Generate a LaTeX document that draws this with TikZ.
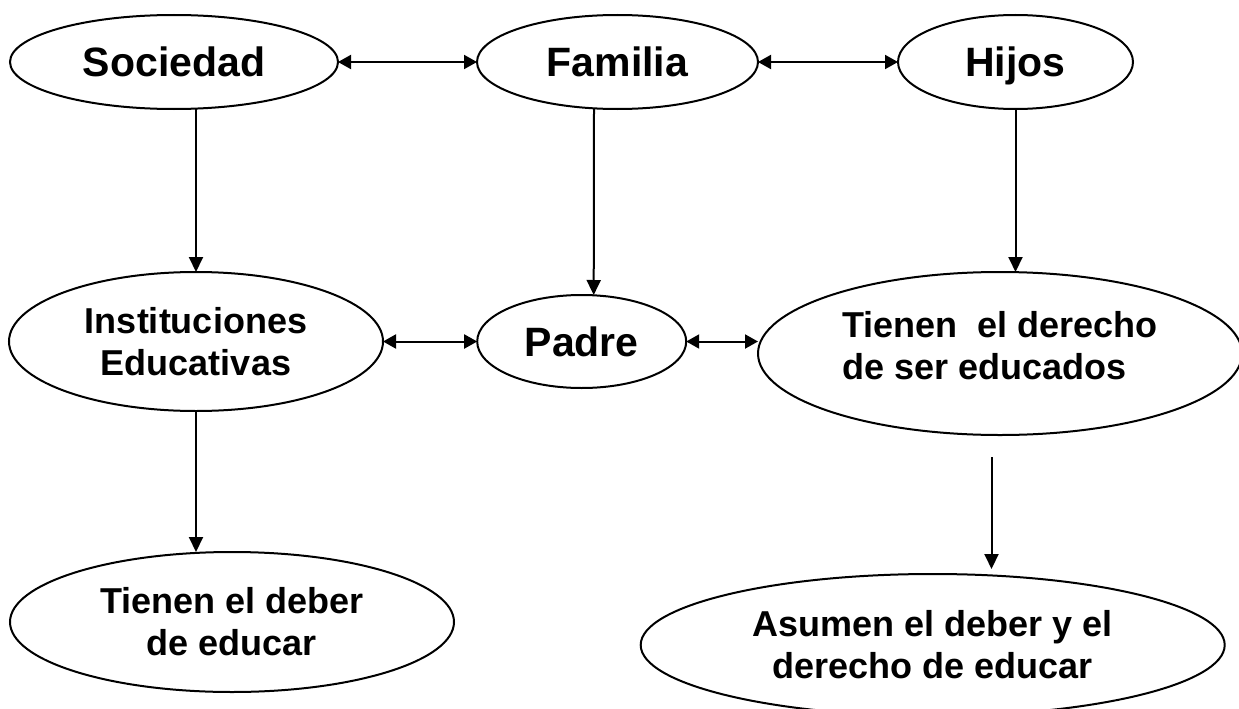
\documentclass[tikz,border=0pt]{standalone}
\usepackage{fontspec}
\setmainfont{Liberation Sans}
\usetikzlibrary{shapes.geometric,arrows.meta}
\begin{document}
\begin{tikzpicture}[x=1pt,y=-1pt,
  ell/.style={draw=black, line width=2pt, ellipse, inner sep=0pt, outer sep=0pt, fill=white},
  bigtxt/.style={font=\bfseries\fontsize{41}{49}\selectfont, text depth=0pt},
  midtxt/.style={font=\bfseries\fontsize{36}{42}\selectfont, align=center},
  arr/.style={line width=2pt, -{Triangle[length=15pt,width=14pt]}},
  darr/.style={line width=2pt, {Triangle[length=13pt,width=14pt]}-{Triangle[length=13pt,width=14pt]}}]
\useasboundingbox[fill=white] (0,0) rectangle (1239,709);
% top row
\node[ell, bigtxt, minimum width=328pt, minimum height=94pt] (soc) at (174,62) {Sociedad};
\node[ell, bigtxt, minimum width=281pt, minimum height=94pt] (fam) at (617.5,62) {Familia};
\node[ell, bigtxt, minimum width=235pt, minimum height=94pt] (hij) at (1015.5,62) {Hijos};
% middle row
\node[ell, midtxt, minimum width=374pt, minimum height=139pt] (inst) at (196,341.5) {Instituciones\\Educativas};
\node[ell, bigtxt, minimum width=209pt, minimum height=93pt] (pad) at (581.7,341.5) {Padre};
\node[ell, midtxt, align=left, minimum width=484pt, minimum height=163pt] (der) at (1000,353.5) {Tienen~~el derecho\\de ser educados\rule[-16pt]{0pt}{16pt}};
% bottom row
\node[ell, midtxt, minimum width=444pt, minimum height=140pt] (deb) at (232,622) {Tienen el deber\\de educar};
\node[ell, midtxt, minimum width=584pt, minimum height=142pt] (asu) at (932.7,645) {Asumen el deber y el\\derecho de educar};
% free arrow ends
\coordinate (a1) at (991.5,457);
\coordinate (a2) at (991.5,569);
% connectors
\draw[darr] (soc.east) -- (fam.west);
\draw[darr] (fam.east) -- (hij.west);
\draw[darr] (inst.east) -- (pad.west);
\draw[darr] (pad.east) -- (pad.east -| der.west);
\draw[arr] ([xshift=22pt]soc.south) -- (inst.north);
\draw[arr] ([xshift=-23.5pt]fam.south) -- ([xshift=12pt]pad.north);
\draw[arr] (hij.south) -- (hij.south |- der.north);
\draw[arr] (inst.south) -- (inst.south |- deb.north);
\draw[arr] (a1) -- (a2);
\end{tikzpicture}
\end{document}
